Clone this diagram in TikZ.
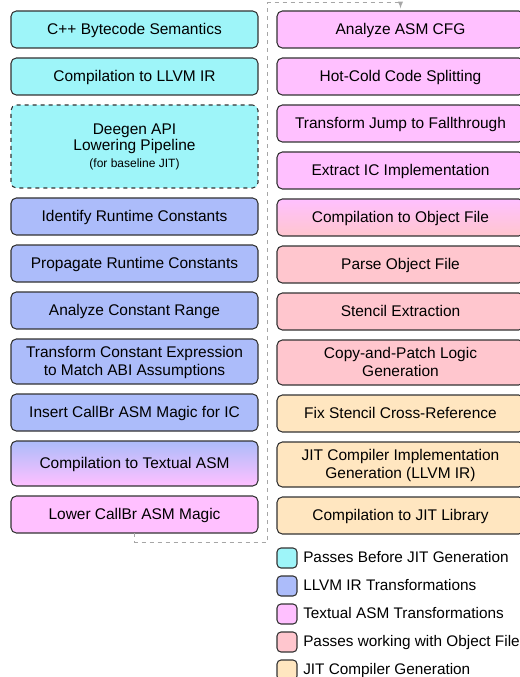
\documentclass[tikz,border=0pt]{standalone}
\usepackage{fontspec}
\setmainfont{Liberation Sans}
\usepackage{tikz}
\usetikzlibrary{calc}
\usetikzlibrary{arrows,positioning}

\definecolor{passcyan}{RGB}{158,245,249}
\definecolor{llvmblue}{RGB}{172,188,250}
\definecolor{asmpink}{RGB}{255,192,255}
\definecolor{objrose}{RGB}{255,198,206}
\definecolor{jittan}{RGB}{255,230,192}

\begin{document}
\begin{tikzpicture}[
    block/.style={
      rectangle,
      draw=black!80,
      line width=0.8pt,
      outer sep=0pt,
      minimum width=185.25pt,
      minimum height=27.75pt,
      text depth=1.5pt,
      align=center,
      rounded corners=4pt,
      font=\fontsize{11.6}{13.5}\selectfont
    },
    tall/.style={
      minimum height=33.75pt
    },
    legend/.style={
      rectangle,
      draw=black!80,
      line width=0.8pt,
      outer sep=0pt,
      minimum size=15pt,
      rounded corners=3pt,
      inner sep=0pt
    },
    legtext/.style={
      inner sep=0pt,
      text height=1.5ex,
      text depth=.25ex,
      font=\fontsize{11.5}{13.5}\selectfont
    }
]

\useasboundingbox (0,0) rectangle (389.25pt,-507.75pt);

%% Left column
\node [block, fill=passcyan, anchor=north west] (sem) at (8.25pt,-8.25pt) {C++ Bytecode Semantics};
\node [block, fill=passcyan] (llvm) [below = 7.5pt of sem] {Compilation to LLVM IR};
\node [block, fill=passcyan, dashed, minimum height=62.25pt, font=\fontsize{11.6}{12.5}\selectfont] (deegen) [below = 7.5pt of llvm] {Deegen API\\Lowering Pipeline\\{\fontsize{9}{10}\selectfont (for baseline JIT)}};
\node [block, fill=llvmblue] (ident) [below = 7.5pt of deegen] {Identify Runtime Constants};
\node [block, fill=llvmblue] (prop) [below = 7.5pt of ident] {Propagate Runtime Constants};
\node [block, fill=llvmblue] (range) [below = 7.5pt of prop] {Analyze Constant Range};
\node [block, tall, fill=llvmblue] (abi) [below = 7.5pt of range] {Transform Constant Expression\\to Match ABI Assumptions};
\node [block, fill=llvmblue] (callbr) [below = 7.5pt of abi] {Insert CallBr ASM Magic for IC};
\node [block, tall, top color=llvmblue, bottom color=asmpink] (textasm) [below = 7.5pt of callbr] {Compilation to Textual ASM};
\node [block, fill=asmpink] (lower) [below = 7.5pt of textasm] {Lower CallBr ASM Magic};

%% Right column
\node [block, fill=asmpink] (cfg) [right = 14.25pt of sem] {Analyze ASM CFG};
\node [block, fill=asmpink] (split) [below = 7.5pt of cfg] {Hot-Cold Code Splitting};
\node [block, fill=asmpink] (fallthru) [below = 7.5pt of split] {Transform Jump to Fallthrough};
\node [block, fill=asmpink] (extract) [below = 7.5pt of fallthru] {Extract IC Implementation};
\node [block, top color=asmpink, bottom color=objrose] (objfile) [below = 7.5pt of extract] {Compilation to Object File};
\node [block, fill=objrose] (parse) [below = 7.5pt of objfile] {Parse Object File};
\node [block, fill=objrose] (stencil) [below = 7.5pt of parse] {Stencil Extraction};
\node [block, tall, fill=objrose] (patch) [below = 7.5pt of stencil] {Copy-and-Patch Logic\\Generation};
\node [block, fill=jittan] (xref) [below = 7.5pt of patch] {Fix Stencil Cross-Reference};
\node [block, tall, fill=jittan] (jitimpl) [below = 7.5pt of xref] {JIT Compiler Implementation\\Generation (LLVM IR)};
\node [block, fill=jittan] (libjit) [below = 7.5pt of jitimpl] {Compilation to JIT Library};

%% Legend
\node [legend, fill=passcyan] (legpass) [below right = 10.5pt and 0pt of libjit.south west] {};
\node [legtext] (txtpass) [right = 4.5pt of legpass] {Passes Before JIT Generation};
\node [legend, fill=llvmblue] (legllvm) [below = 6pt of legpass] {};
\node [legtext] (txtllvm) [right = 4.5pt of legllvm] {LLVM IR Transformations};
\node [legend, fill=asmpink] (legasm) [below = 6pt of legllvm] {};
\node [legtext] (txtasm) [right = 4.5pt of legasm] {Textual ASM Transformations};
\node [legend, fill=objrose] (legobj) [below = 6pt of legasm] {};
\node [legtext] (txtobj) [right = 4.5pt of legobj] {Passes working with Object File};
\node [legend, fill=jittan] (legjit) [below = 6pt of legobj] {};
\node [legtext] (txtjit) [right = 4.5pt of legjit] {JIT Compiler Generation};

%%% Arrows
\coordinate (turn) at ($(sem.north east)!0.5!(cfg.north west) + (0,6pt)$);
\draw [->, >=latex, gray!70, line width=0.75pt, dashed, shorten >=2pt] (lower.south) -- ++(0,-6.75pt) -| (turn) -| (cfg.north);

\end{tikzpicture}
\end{document}
